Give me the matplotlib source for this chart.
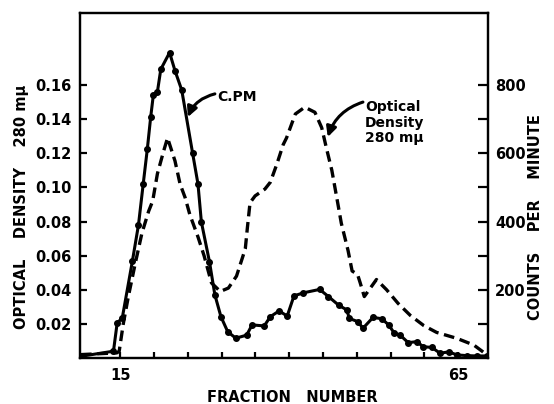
import matplotlib
matplotlib.use("Agg")
import matplotlib.pyplot as plt

# ---- data ----
cpm_frac = [9.2, 14.0, 14.55, 15.3, 16.8, 17.7, 18.4, 19.0, 19.5, 19.9, 20.5, 21.0,
            22.3, 23.1, 24.1, 25.7, 26.5, 27.0, 28.2, 29.0, 29.9, 30.9, 32.1, 33.7,
            34.5, 36.3, 37.2, 38.5, 39.7, 40.7, 42.1, 44.5, 45.8, 47.3, 48.5, 48.9,
            50.2, 50.9, 52.4, 53.7, 54.7, 55.5, 56.4, 57.6, 58.9, 59.8, 61.1, 62.3,
            63.6, 64.8, 66.3, 67.7, 69.2]
cpm = [5, 20, 103, 117, 284, 390, 510, 611, 705, 771, 780, 846,
       895, 842, 785, 601, 510, 399, 282, 185, 121, 77, 58, 67,
       97, 94, 121, 138, 123, 182, 191, 201, 180, 155, 141, 116,
       106, 87, 119, 115, 97, 74, 67, 45, 48, 33, 31, 14,
       18, 9, 7, 6, 6]

od_frac = [9.2, 14.5, 14.85, 15.45, 16.2, 17.2, 18.2, 19.2, 19.8, 20.5, 21.4, 22.0,
           23.1, 23.85, 24.6, 25.3, 26.5, 27.4, 28.5, 29.8, 31.0, 32.2, 33.5, 33.8,
           34.2, 34.95, 36.4, 37.2, 38.2, 39.1, 39.6, 40.9, 42.3, 43.8, 44.8, 45.5,
           46.3, 47.3, 47.7, 48.7, 49.3, 50.1, 50.5, 51.1, 52.9, 54.4, 56.1, 57.9,
           59.9, 61.8, 64.8, 67.3, 69.2]
od = [0.002, 0.003, 0.004, 0.020, 0.036, 0.055, 0.073, 0.086, 0.092, 0.108, 0.121, 0.129,
      0.1155, 0.102, 0.094, 0.084, 0.071, 0.060, 0.044, 0.039, 0.041, 0.048, 0.064, 0.076,
      0.091, 0.095, 0.099, 0.103, 0.114, 0.125, 0.129, 0.143, 0.147, 0.144, 0.135, 0.123,
      0.110, 0.088, 0.079, 0.063, 0.051, 0.049, 0.044, 0.036, 0.046, 0.040, 0.032, 0.025,
      0.019, 0.015, 0.0115, 0.0076, 0.002]

od_ticks = [0.02, 0.04, 0.06, 0.08, 0.10, 0.12, 0.14, 0.16]
od_tick_labels = ["0.02", "0.04", "0.06", "0.08", "0.10", "0.12", "0.14", "0.16"]
cpm_ticks = [100, 200, 300, 400, 500, 600, 700, 800]
cpm_tick_labels = ["", "200", "", "400", "", "600", "", "800"]
x_ticks = [15, 20, 25, 30, 35, 40, 45, 50, 55, 60, 65]
x_tick_labels = ["15", "", "", "", "", "", "", "", "", "", "65"]

plt.rcParams['font.family'] = ['DejaVu Sans']
plt.rcParams['font.weight'] = 'bold'

fig = plt.figure(figsize=(5.54, 4.04), dpi=100)
ax = fig.add_axes([80/554, 1-358/404, 408/554, 345/404])
ax2 = ax.twinx()

ax.set_xlim(9.05, 69.4)
ax.set_ylim(0, 0.2022)
ax2.set_ylim(0, 1011)

ax.plot(od_frac, od, color='black', lw=2.4, linestyle=(0, (3.2, 1.7)),
        dash_capstyle='butt', solid_joinstyle='round')
ax2.plot(cpm_frac, cpm, color='black', lw=2.2, marker='o', markersize=4)

for s in ax.spines.values():
    s.set_linewidth(1.6)
for s in ax2.spines.values():
    s.set_linewidth(1.6)

ax.set_xticks(x_ticks)
ax.set_xticklabels(x_tick_labels)
ax.set_yticks(od_ticks)
ax.set_yticklabels(od_tick_labels)
ax2.set_yticks(cpm_ticks)
ax2.set_yticklabels(cpm_tick_labels)

ax.tick_params(axis='x', direction='in', length=4, width=1.6, pad=7, labelsize=10.5)
ax.tick_params(axis='y', direction='in', length=5, width=1.6, pad=6, labelsize=10.5)
ax2.tick_params(axis='y', direction='in', length=7, width=1.6, pad=5, labelsize=10.5)
for lab in ax.get_xticklabels() + ax.get_yticklabels() + ax2.get_yticklabels():
    lab.set_fontweight('bold')

fig.text(292/554, 1-398/404, "FRACTION   NUMBER", ha='center', va='center',
         fontsize=10.5, fontweight='bold')
fig.text(22/554, 1-207/404, "OPTICAL    DENSITY    280 m\u03bc", ha='center', va='center',
         rotation=90, fontsize=10.5, fontweight='bold')
fig.text(536/554, 1-217/404, "COUNTS    PER    MINUTE", ha='center', va='center',
         rotation=90, fontsize=10.5, fontweight='bold')

# annotations
ax2.text(29.4, 764, "C.PM", ha='left', va='center', fontsize=10, fontweight='bold')
ax2.annotate("", xy=(25.0, 706), xytext=(29.0, 774),
             arrowprops=dict(arrowstyle='-|>,head_length=0.6,head_width=0.3',
                             color='black', lw=2.2,
                             connectionstyle='arc3,rad=0.25', shrinkA=0, shrinkB=0))

ax.text(51.2, 0.138, "Optical\nDensity\n280 m\u03bc", ha='left', va='center',
        fontsize=10, fontweight='bold', linespacing=1.1)
ax.annotate("", xy=(45.7, 0.1295), xytext=(50.9, 0.150),
            arrowprops=dict(arrowstyle='-|>,head_length=0.6,head_width=0.3',
                            color='black', lw=2.2,
                            connectionstyle='arc3,rad=0.25', shrinkA=0, shrinkB=0))

fig.savefig("out.png", dpi=100)
